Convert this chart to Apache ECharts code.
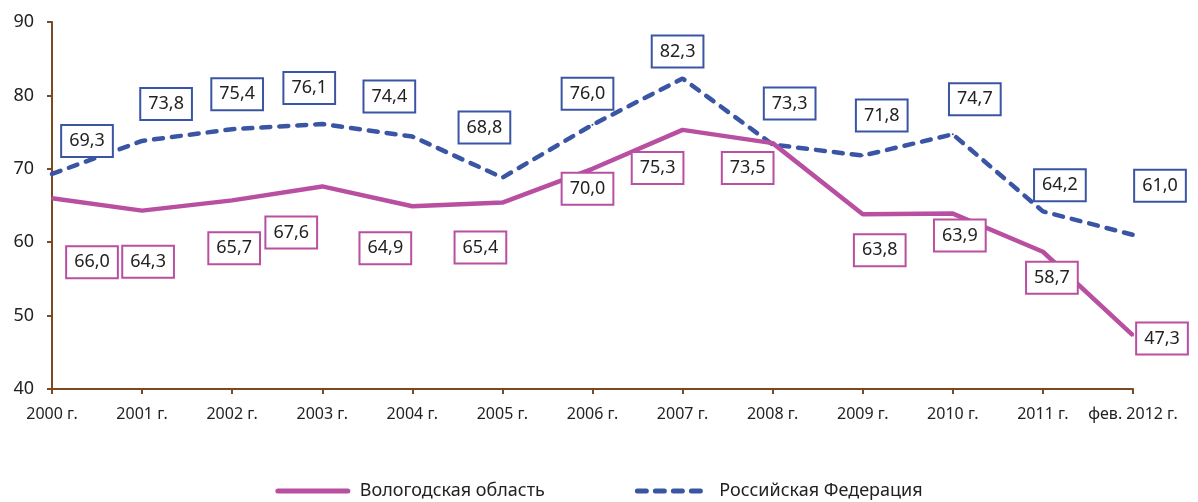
<!DOCTYPE html>
<html>
<head>
<meta charset="utf-8">
<script src="https://cdn.jsdelivr.net/npm/echarts@6/dist/echarts.min.js"></script>
<style>
html,body{margin:0;padding:0;background:#fff;}
#main{width:1198px;height:502px;}
</style>
</head>
<body>
<div id="main"></div>
<script>
var categories = ['2000 г.','2001 г.','2002 г.','2003 г.','2004 г.','2005 г.','2006 г.','2007 г.','2008 г.','2009 г.','2010 г.','2011 г.','фев. 2012 г.'];
var vologda = [66.0, 64.3, 65.7, 67.6, 64.9, 65.4, 70.0, 75.3, 73.5, 63.8, 63.9, 58.7, 47.3];
var russia = [69.3, 73.8, 75.4, 76.1, 74.4, 68.8, 76.0, 82.3, 73.3, 71.8, 74.7, 64.2, 61.0];

// сдвиги подписей относительно точек (как на исходном рисунке)
var vologdaLabelOffsets = [[40,64],[6,51],[2,48],[-31,46],[-27,42],[-22,45],[-5,20],[-25,38],[-25,25],[17,36],[7,22],[9,26],[29,3]];
var russiaLabelOffsets = [[35,-33],[24,-37],[5,-35],[-13,-36],[-23,-40],[-18,-50],[-5,-31],[-5,-27],[17,-41],[19,-40],[22,-35],[17,-26],[27,-49]];

var FONT = '"Noto Sans", sans-serif';
var PINK = '#B94FA0';
var BLUE = '#3B55A5';

function fmt(v){
	return v.toFixed(1).replace('.', ',');
}

function buildData(values, offsets){
	return values.map(function(v, i){
		return {value: v, label: {offset: offsets[i]}};
	});
}

function boxLabel(color){
	return {
		show: true,
		position: 'inside',
		formatter: function(p){ return fmt(p.value); },
		color: '#222',
		fontFamily: FONT,
		fontSize: 18,
		lineHeight: 21,
		backgroundColor: '#fff',
		borderColor: color,
		borderWidth: 2,
		padding: [5, 7, 4, 7]
	};
}

var option = {
	animation: false,
	grid: {
		left: 52,
		right: 65,
		top: 22,
		bottom: 113
	},
	legend: {
		top: 477,
		left: 'center',
		itemWidth: 70,
		itemHeight: 10,
		itemGap: 90,
		itemStyle: {opacity: 0},
		textStyle: {color: '#222', fontFamily: FONT, fontSize: 18, padding: [0, 0, 0, 7]},
		data: [
			{name: 'Вологодская область', lineStyle: {width: 5, cap: 'round'}},
			{name: 'Российская Федерация', lineStyle: {width: 5, cap: 'round'}}
		]
	},
	xAxis: {
		type: 'category',
		boundaryGap: false,
		data: categories,
		axisLine: {lineStyle: {color: '#7B4A22', width: 2}},
		axisTick: {show: true, length: 5, lineStyle: {color: '#7B4A22', width: 2}},
		axisLabel: {color: '#222', fontFamily: FONT, fontSize: 16, margin: 17, interval: 0}
	},
	yAxis: {
		type: 'value',
		min: 40,
		max: 90,
		interval: 10,
		splitLine: {show: false},
		axisLine: {show: true, lineStyle: {color: '#7B4A22', width: 2}},
		axisTick: {show: true, length: 5, lineStyle: {color: '#7B4A22', width: 2}},
		axisLabel: {color: '#222', fontFamily: FONT, fontSize: 18, margin: 18}
	},
	series: [
		{
			name: 'Российская Федерация',
			type: 'line',
			symbol: 'circle',
			symbolSize: 2,
			itemStyle: {color: BLUE},
			lineStyle: {color: BLUE, width: 4.5, type: [9, 9], cap: 'round'},
			label: boxLabel(BLUE),
			data: buildData(russia, russiaLabelOffsets),
			z: 2
		},
		{
			name: 'Вологодская область',
			type: 'line',
			symbol: 'circle',
			symbolSize: 2,
			itemStyle: {color: PINK},
			lineStyle: {color: PINK, width: 4.5},
			label: boxLabel(PINK),
			data: buildData(vologda, vologdaLabelOffsets),
			z: 3
		}
	]
};

var myChart = echarts.init(document.getElementById('main'));
myChart.setOption(option);
</script>
</body>
</html>
